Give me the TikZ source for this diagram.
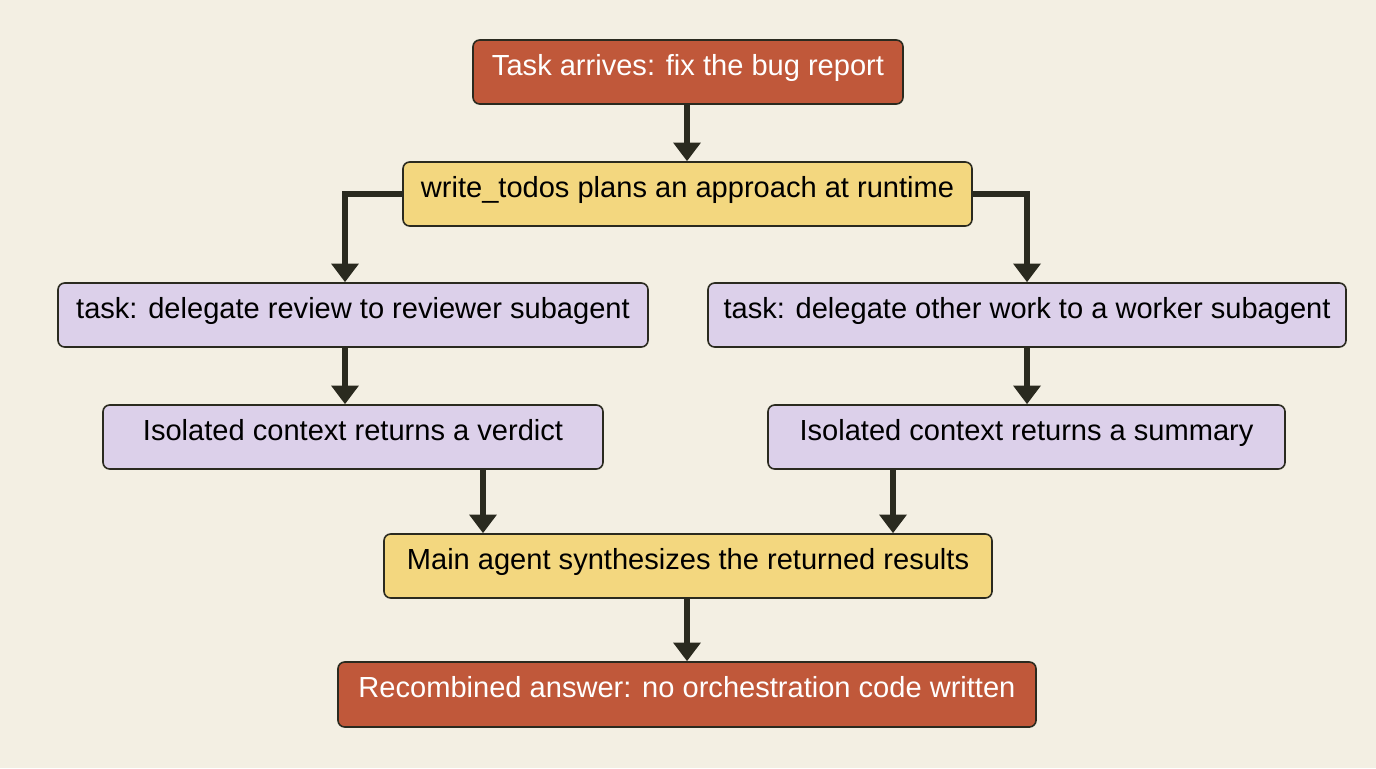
\documentclass[tikz,border=0pt]{standalone}
\usepackage{fontspec}
\setmainfont{Liberation Sans}
\usetikzlibrary{arrows.meta}
\definecolor{bg}{HTML}{F3EFE3}
\definecolor{rust}{HTML}{C0583A}
\definecolor{sand}{HTML}{F3D77F}
\definecolor{lav}{HTML}{DCD0EA}
\definecolor{ink}{HTML}{2A2A1F}
\begin{document}
\begin{tikzpicture}[x=0.75pt,y=-0.75pt,
  box/.style={draw=ink,line width=1.2pt,rounded corners=5pt,font=\fontsize{21.8}{25}\selectfont,inner sep=0pt,text height=0.72em,text depth=0.2em},
  rustbox/.style={box,fill=rust,text=white},
  sandbox/.style={box,fill=sand,text=black},
  lavbox/.style={box,fill=lav,text=black},
  arr/.style={draw=ink,line width=4pt,-{Triangle[length=14pt,width=20pt]}}]
\fill[bg] (0,0) rectangle (1376,768);
\useasboundingbox (0,0) rectangle (1376,768);
\newcommand{\bx}[7]{\node[#1,minimum width={(#4-#3)*0.75pt},minimum height={(#6-#5)*0.75pt}] (#2) at ({(#3+#4)/2},{(#5+#6)/2}) {#7};}
\bx{rustbox}{a}{473}{903}{40}{104}{Task arrives: fix the bug report}
\bx{sandbox}{b}{403}{972}{162}{226}{write\_todos plans an approach at runtime}
\bx{lavbox}{c}{58}{648}{283}{347}{task: delegate review to reviewer subagent}
\bx{lavbox}{d}{708}{1346}{283}{347}{task: delegate other work to a worker subagent}
\bx{lavbox}{e}{103}{603}{405}{469}{Isolated context returns a verdict}
\bx{lavbox}{f}{768}{1285}{405}{469}{Isolated context returns a summary}
\bx{sandbox}{g}{384}{992}{534}{598}{Main agent synthesizes the returned results}
\bx{rustbox}{h}{338}{1036}{662}{727}{Recombined answer: no orchestration code written}
\draw[arr] (a.south -| 687,0) -- (b.north -| 687,0);
\draw[arr] (b.west) -| (c.north -| 345,0);
\draw[arr] (b.east) -| (d.north -| 1027,0);
\draw[arr] (c.south -| 345,0) -- (e.north -| 345,0);
\draw[arr] (d.south -| 1027,0) -- (f.north -| 1027,0);
\draw[arr] (e.south -| 483,0) -- (g.north -| 483,0);
\draw[arr] (f.south -| 893,0) -- (g.north -| 893,0);
\draw[arr] (g.south -| 687,0) -- (h.north -| 687,0);
\end{tikzpicture}
\end{document}
